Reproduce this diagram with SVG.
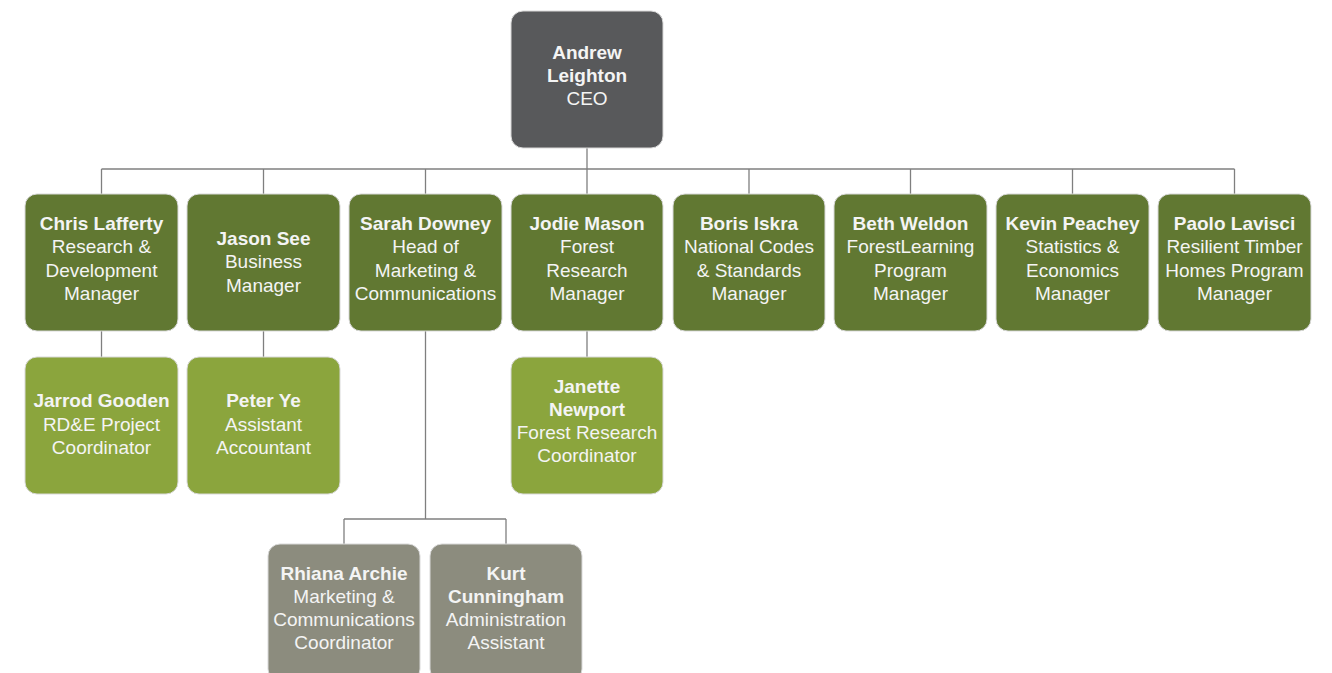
<svg xmlns="http://www.w3.org/2000/svg" width="1332" height="673" viewBox="0 0 1332 673">
<style>
.b{stroke:#d9d9d9;stroke-width:1}
.ceo{fill:#58595b}
.l2{fill:#617832}
.l3{fill:#8ba53d}
.l4{fill:#8c8c7e}
text{font-family:"Liberation Sans",Arial,sans-serif;font-size:19px;fill:#f4f4f4;text-anchor:middle}
.n{font-weight:bold}
.c line{stroke:#7f7f7f;stroke-width:1.3}
</style>
<rect width="1332" height="673" fill="#ffffff"/>
<g class="c" id="connectors">
<line x1="587" y1="148" x2="587" y2="169"/>
<line x1="101.5" y1="169" x2="1234.5" y2="169"/>
<line x1="101.5" y1="169" x2="101.5" y2="194"/>
<line x1="263.5" y1="169" x2="263.5" y2="194"/>
<line x1="425.5" y1="169" x2="425.5" y2="194"/>
<line x1="587" y1="169" x2="587" y2="194"/>
<line x1="749" y1="169" x2="749" y2="194"/>
<line x1="910.5" y1="169" x2="910.5" y2="194"/>
<line x1="1072.5" y1="169" x2="1072.5" y2="194"/>
<line x1="1234.5" y1="169" x2="1234.5" y2="194"/>
<line x1="101.5" y1="331" x2="101.5" y2="357"/>
<line x1="263.5" y1="331" x2="263.5" y2="357"/>
<line x1="587" y1="331" x2="587" y2="357"/>
<line x1="425.5" y1="331" x2="425.5" y2="519"/>
<line x1="344" y1="519" x2="506" y2="519"/>
<line x1="344" y1="519" x2="344" y2="544"/>
<line x1="506" y1="519" x2="506" y2="544"/>
</g>
<g id="andrew">
<rect class="b ceo" x="511" y="11" width="152" height="137" rx="12"/>
<text x="587" y="59" class="n">Andrew</text>
<text x="587" y="82" class="n">Leighton</text>
<text x="587" y="105">CEO</text>
</g>
<g id="chris">
<rect class="b l2" x="25" y="194" width="153" height="137" rx="12"/>
<text x="101.5" y="230" class="n">Chris Lafferty</text>
<text x="101.5" y="253">Research &amp;</text>
<text x="101.5" y="277">Development</text>
<text x="101.5" y="300">Manager</text>
</g>
<g id="jason">
<rect class="b l2" x="187" y="194" width="153" height="137" rx="12"/>
<text x="263.5" y="245" class="n">Jason See</text>
<text x="263.5" y="268">Business</text>
<text x="263.5" y="292">Manager</text>
</g>
<g id="sarah">
<rect class="b l2" x="349" y="194" width="153" height="137" rx="12"/>
<text x="425.5" y="230" class="n">Sarah Downey</text>
<text x="425.5" y="253">Head of</text>
<text x="425.5" y="277">Marketing &amp;</text>
<text x="425.5" y="300">Communications</text>
</g>
<g id="jodie">
<rect class="b l2" x="511" y="194" width="152" height="137" rx="12"/>
<text x="587" y="230" class="n">Jodie Mason</text>
<text x="587" y="253">Forest</text>
<text x="587" y="277">Research</text>
<text x="587" y="300">Manager</text>
</g>
<g id="boris">
<rect class="b l2" x="673" y="194" width="152" height="137" rx="12"/>
<text x="749" y="230" class="n">Boris Iskra</text>
<text x="749" y="253">National Codes</text>
<text x="749" y="277">&amp; Standards</text>
<text x="749" y="300">Manager</text>
</g>
<g id="beth">
<rect class="b l2" x="834" y="194" width="153" height="137" rx="12"/>
<text x="910.5" y="230" class="n">Beth Weldon</text>
<text x="910.5" y="253">ForestLearning</text>
<text x="910.5" y="277">Program</text>
<text x="910.5" y="300">Manager</text>
</g>
<g id="kevin">
<rect class="b l2" x="996" y="194" width="153" height="137" rx="12"/>
<text x="1072.5" y="230" class="n">Kevin Peachey</text>
<text x="1072.5" y="253">Statistics &amp;</text>
<text x="1072.5" y="277">Economics</text>
<text x="1072.5" y="300">Manager</text>
</g>
<g id="paolo">
<rect class="b l2" x="1158" y="194" width="153" height="137" rx="12"/>
<text x="1234.5" y="230" class="n">Paolo Lavisci</text>
<text x="1234.5" y="253">Resilient Timber</text>
<text x="1234.5" y="277">Homes Program</text>
<text x="1234.5" y="300">Manager</text>
</g>
<g id="jarrod">
<rect class="b l3" x="25" y="357" width="153" height="137" rx="12"/>
<text x="101.5" y="407" class="n">Jarrod Gooden</text>
<text x="101.5" y="431">RD&amp;E Project</text>
<text x="101.5" y="454">Coordinator</text>
</g>
<g id="peter">
<rect class="b l3" x="187" y="357" width="153" height="137" rx="12"/>
<text x="263.5" y="407" class="n">Peter Ye</text>
<text x="263.5" y="431">Assistant</text>
<text x="263.5" y="454">Accountant</text>
</g>
<g id="janette">
<rect class="b l3" x="511" y="357" width="152" height="137" rx="12"/>
<text x="587" y="393" class="n">Janette</text>
<text x="587" y="416" class="n">Newport</text>
<text x="587" y="439">Forest Research</text>
<text x="587" y="462">Coordinator</text>
</g>
<g id="rhiana">
<rect class="b l4" x="268" y="544" width="152" height="137" rx="12"/>
<text x="344" y="580" class="n">Rhiana Archie</text>
<text x="344" y="603">Marketing &amp;</text>
<text x="344" y="626">Communications</text>
<text x="344" y="649">Coordinator</text>
</g>
<g id="kurt">
<rect class="b l4" x="430" y="544" width="152" height="137" rx="12"/>
<text x="506" y="580" class="n">Kurt</text>
<text x="506" y="603" class="n">Cunningham</text>
<text x="506" y="626">Administration</text>
<text x="506" y="649">Assistant</text>
</g>
</svg>
